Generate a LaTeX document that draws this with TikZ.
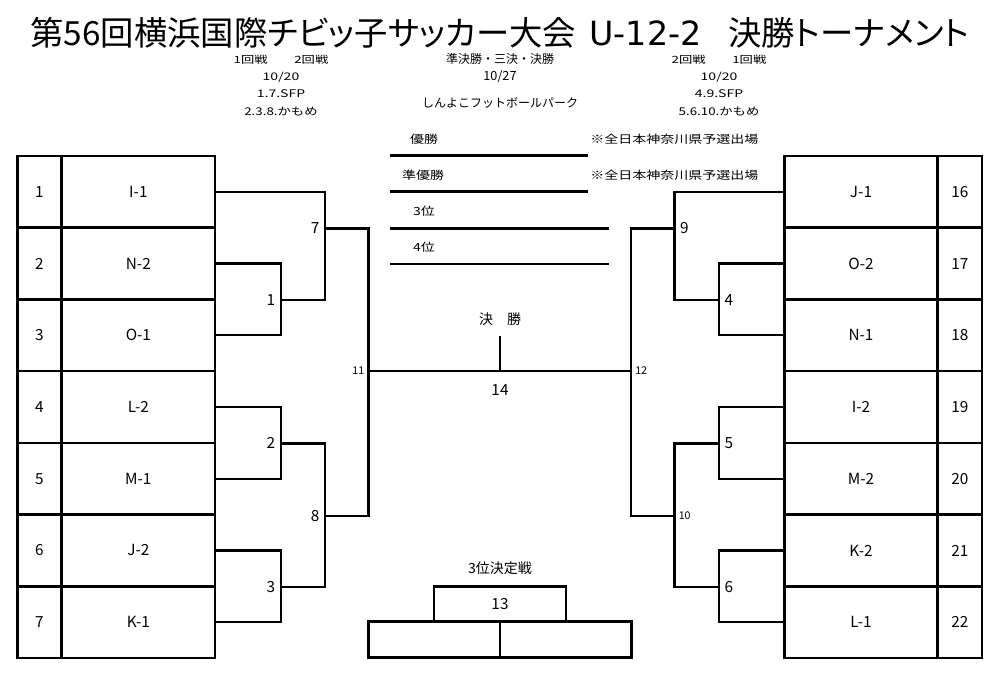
\documentclass[tikz,border=0pt]{standalone}
\usepackage{fontspec}
\setmainfont{Noto Sans CJK JP}
\newfontfamily\titlefont[RawFeature=+palt]{Noto Sans CJK JP}
\newfontfamily\latinfont{DejaVu Sans}
\usepackage{graphicx}
\usetikzlibrary{positioning}
\newcommand{\vsq}[2][0.7]{\scalebox{1}[#1]{#2}}
\tikzset{
  seed/.style={draw, rectangle, line width=2pt, minimum width=33.3pt,
    minimum height=53.8pt, inner sep=0pt, outer sep=0pt,
    font=\fontsize{11.5}{12}\selectfont},
  team/.style={seed, minimum width=115pt},
  bline/.style={line width=1.8pt},
  rankline/.style={line width=2pt},
  lbl/.style={inner sep=1pt, font=\fontsize{11.5}{12}\selectfont},
  slbl/.style={inner sep=1pt, font=\fontsize{8}{9}\selectfont},
  hdr/.style={inner sep=0pt, font=\fontsize{9}{10}\selectfont},
  hdrdate/.style={inner sep=0pt, font=\fontsize{10.5}{12}\selectfont},
  ranktxt/.style={inner sep=0pt, font=\fontsize{10.5}{12}\selectfont},
}

\begin{document}
\begin{tikzpicture}[x=0.75pt,y=-0.75pt,node distance=0pt]
  \useasboundingbox (0,0) rectangle (1000,678);

  % Title
  \node[inner sep=0pt, font=\titlefont\fontsize{25}{28}\selectfont] (title) at (500,33)
    {第56回横浜国際チビッ子サッカー大会\hspace{0.4em}{\latinfont U-12-2}\hspace{0.8em}決勝トーナメント};

  % Schedule
  \node[hdr] (hl1) at (281,60) {\vsq[0.75]{\fontsize{10}{12}\selectfont 1回戦\hspace{2em}2回戦}};
  \node[hdrdate] (hl2) at (281,77) {\vsq[0.75]{10/20}};
  \node[hdrdate] (hl3) at (281,94) {\vsq[0.75]{1.7.SFP}};
  \node[hdr] (hl4) at (281,112) {\vsq[0.8]{\fontsize{10}{12}\selectfont 2.3.8.かもめ}};
  \node[hdr] (hc1) at (500,59) {準決勝・三決・決勝};
  \node[hdrdate] (hc2) at (500,77) {\fontsize{9.5}{12}\selectfont 10/27};
  \node[hdr] (hc3) at (500,103) {しんよこフットボールパーク};
  \node[hdr] (hr1) at (719,60) {\vsq[0.75]{\fontsize{10}{12}\selectfont 2回戦\hspace{2em}1回戦}};
  \node[hdrdate] (hr2) at (719,77) {\vsq[0.75]{10/20}};
  \node[hdrdate] (hr3) at (719,94) {\vsq[0.75]{4.9.SFP}};
  \node[hdr] (hr4) at (719,112) {\vsq[0.8]{\fontsize{10}{12}\selectfont 5.6.10.かもめ}};

  % Ranking
  \node[ranktxt] (win) at (424,139) {\vsq[0.8]{優勝}};
  \node[ranktxt] (second) at (423,175) {\vsq[0.8]{準優勝}};
  \node[ranktxt] (third) at (424,211) {\vsq[0.8]{3位}};
  \node[ranktxt] (fourth) at (424,247) {\vsq[0.8]{4位}};
  \node[ranktxt, anchor=west] (note1) at (590,139) {\vsq[0.8]{※全日本神奈川県予選出場}};
  \node[ranktxt, anchor=west] (note2) at (590,175) {\vsq[0.8]{※全日本神奈川県予選出場}};
  \draw[rankline] (390,155.7) -- (587.7,155.7);
  \draw[rankline] (390,191.7) -- (587.7,191.7);
  \draw[rankline] (390,228.3) -- (609.3,228.3);
  \draw[rankline] (390,264) -- (609.3,264);

  % Left teams
  \node[seed] (sl1) at (39.5,191.8) {1};
  \node[team, right=of sl1] (tl1) {I-1};
  \node[seed, below=of sl1] (sl2) {2};
  \node[team, right=of sl2] (tl2) {N-2};
  \node[seed, below=of sl2] (sl3) {3};
  \node[team, right=of sl3] (tl3) {O-1};
  \node[seed, below=of sl3] (sl4) {4};
  \node[team, right=of sl4] (tl4) {L-2};
  \node[seed, below=of sl4] (sl5) {5};
  \node[team, right=of sl5] (tl5) {M-1};
  \node[seed, below=of sl5] (sl6) {6};
  \node[team, right=of sl6] (tl6) {J-2};
  \node[seed, below=of sl6] (sl7) {7};
  \node[team, right=of sl7] (tl7) {K-1};

  % Right teams
  \node[team] (tr16) at (861,191.8) {J-1};
  \node[seed, right=of tr16] (sr16) {16};
  \node[team, below=of tr16] (tr17) {O-2};
  \node[seed, right=of tr17] (sr17) {17};
  \node[team, below=of tr17] (tr18) {N-1};
  \node[seed, right=of tr18] (sr18) {18};
  \node[team, below=of tr18] (tr19) {I-2};
  \node[seed, right=of tr19] (sr19) {19};
  \node[team, below=of tr19] (tr20) {M-2};
  \node[seed, right=of tr20] (sr20) {20};
  \node[team, below=of tr20] (tr21) {K-2};
  \node[seed, right=of tr21] (sr21) {21};
  \node[team, below=of tr21] (tr22) {L-1};
  \node[seed, right=of tr22] (sr22) {22};

  % Match points
  \coordinate (m1) at (280.7,300);
  \coordinate (m2) at (280.7,443.3);
  \coordinate (m3) at (280.7,586.7);
  \coordinate (m7) at (325,228.5);
  \coordinate (m8) at (325,515.7);
  \coordinate (m11) at (368.5,371);
  \coordinate (m4) at (719,300);
  \coordinate (m5) at (719,443.3);
  \coordinate (m6) at (719,586.7);
  \coordinate (m9) at (674.5,228.5);
  \coordinate (m10) at (674.5,515.7);
  \coordinate (m12) at (631,371);
  \coordinate (m14) at (500,371);
  \coordinate (ftop) at (500,336);

  % Left bracket
  \draw[bline] (tl2.east) -| (m1) |- (tl3.east);
  \draw[bline] (tl4.east) -| (m2) |- (tl5.east);
  \draw[bline] (tl6.east) -| (m3) |- (tl7.east);
  \draw[bline] (tl1.east) -| (m7) |- (m1);
  \draw[bline] (m2) -| (m8) |- (m3);
  \draw[bline] (m7) -| (m11) |- (m8);

  % Right bracket
  \draw[bline] (tr17.west) -| (m4) |- (tr18.west);
  \draw[bline] (tr19.west) -| (m5) |- (tr20.west);
  \draw[bline] (tr21.west) -| (m6) |- (tr22.west);
  \draw[bline] (tr16.west) -| (m9) |- (m4);
  \draw[bline] (m5) -| (m10) |- (m6);
  \draw[bline] (m9) -| (m12) |- (m10);

  % Final
  \draw[bline] (m11) -- (m12);
  \draw[bline] (m14) -- (ftop);
  \node[ranktxt] (fin) at (500,319) {決\hspace{1em}勝};
  \node[lbl] (n14) at (500,390) {14};

  % Match numbers
  \node[lbl, left=3pt of m1] (n1) {1};
  \node[lbl, left=3pt of m2] (n2) {2};
  \node[lbl, left=3pt of m3] (n3) {3};
  \node[lbl, left=3pt of m7] (n7) {7};
  \node[lbl, left=3pt of m8] (n8) {8};
  \node[slbl, left=2pt of m11] (n11) {11};
  \node[lbl, right=3pt of m4] (n4) {4};
  \node[lbl, right=3pt of m5] (n5) {5};
  \node[lbl, right=3pt of m6] (n6) {6};
  \node[lbl, right=3pt of m9] (n9) {9};
  \node[slbl, right=2pt of m10] (n10) {10};
  \node[slbl, right=2pt of m12] (n12) {12};

  % Third place
  \node[ranktxt] (thirdplay) at (500,568) {3位決定戦};
  \node[seed, minimum width=99pt, minimum height=26.3pt] (b13) at (500,604.2) {13};
  \node[seed, minimum width=98.8pt, minimum height=27pt] (b13l) at (434.2,639.7) {};
  \node[seed, minimum width=98.8pt, minimum height=27pt] (b13r) at (565.8,639.7) {};

\end{tikzpicture}
\end{document}
